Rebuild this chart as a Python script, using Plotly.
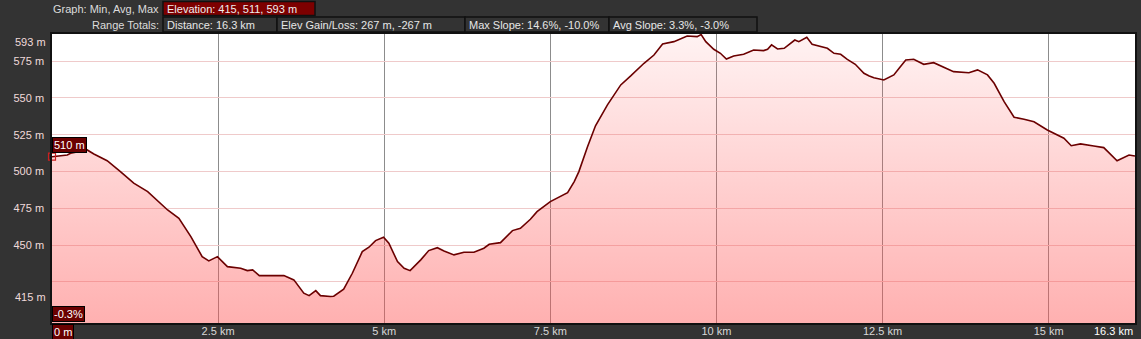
import plotly.graph_objects as go

# ---- data ----
distance_km = [0.00, 0.23, 0.28, 0.53, 0.63, 0.83, 1.03, 1.23, 1.44, 1.74, 1.91, 2.09, 2.26, 2.36,
               2.49, 2.64, 2.84, 2.94, 3.02, 3.12, 3.49, 3.64, 3.79, 3.87, 3.97, 4.04, 4.19, 4.24,
               4.39, 4.52, 4.67, 4.77, 4.87, 4.99, 5.07, 5.20, 5.30, 5.39, 5.55, 5.67, 5.80, 5.90,
               6.05, 6.20, 6.35, 6.50, 6.58, 6.75, 6.93, 7.05, 7.20, 7.30, 7.50, 7.76, 7.86, 7.93,
               8.06, 8.18, 8.36, 8.56, 8.71, 8.91, 9.06, 9.19, 9.36, 9.56, 9.71, 9.77, 9.84, 9.96,
               10.06, 10.15, 10.26, 10.41, 10.56, 10.71, 10.77, 10.83, 10.92, 11.02, 11.18, 11.24,
               11.36, 11.44, 11.67, 11.77, 11.87, 11.97, 12.09, 12.22, 12.30, 12.37, 12.52, 12.67,
               12.75, 12.85, 12.97, 13.12, 13.27, 13.37, 13.57, 13.80, 13.93, 14.08, 14.18, 14.33,
               14.48, 14.63, 14.78, 14.98, 15.08, 15.23, 15.34, 15.48, 15.68, 15.83, 16.03, 16.21,
               16.30]
elevation_m = [510.0, 511.2, 512.4, 514.6, 511.9, 507.3, 499.9, 492.0, 486.3, 473.8, 468.2, 455.7,
               442.1, 439.2, 442.1, 435.3, 434.2, 432.6, 433.1, 429.2, 429.2, 426.3, 417.3, 415.6,
               419.0, 415.6, 415.0, 415.2, 420.0, 430.8, 445.5, 448.5, 453.0, 455.3, 451.2, 438.7,
               434.2, 432.6, 439.9, 446.2, 448.2, 446.0, 443.3, 445.1, 445.1, 447.8, 450.5, 451.6,
               459.8, 461.4, 467.5, 472.7, 479.5, 485.6, 493.1, 499.9, 516.8, 531.0, 545.2, 558.8,
               564.9, 573.5, 579.1, 586.6, 588.2, 592.0, 591.6, 593.0, 588.2, 583.0, 580.3, 576.4,
               578.5, 579.6, 582.5, 582.1, 583.0, 586.0, 583.2, 583.7, 589.3, 588.2, 591.2, 586.4,
               583.7, 580.3, 579.6, 576.2, 572.8, 566.7, 564.9, 563.7, 562.2, 565.6, 570.1, 575.7,
               576.2, 572.8, 573.9, 571.7, 567.8, 567.1, 569.0, 565.6, 559.9, 547.4, 536.8, 535.5,
               533.8, 528.2, 526.0, 522.6, 517.5, 518.7, 517.3, 516.2, 507.3, 511.2, 510.5]

x_tick_vals = [2.5, 5, 7.5, 10, 12.5, 15]
x_tick_text = ["2.5 km", "5 km", "7.5 km", "10 km", "12.5 km", "15 km"]
y_grid_vals = [425, 450, 475, 500, 525, 550, 575]
y_tick_text = ["", "450 m", "475 m", "500 m", "525 m", "550 m", "575 m"]
y_min_label, y_max_label = "415 m", "593 m"
x_end_label = "16.3 km"
start_elev_label = "510 m"
start_slope_label = "-0.3%"
start_dist_label = "0 m"

graph_label = "Graph: Min, Avg, Max"
elev_stats = "Elevation: 415, 511, 593 m"
range_label = "Range Totals:"
range_stats = ["Distance: 16.3 km", "Elev Gain/Loss: 267 m, -267 m",
               "Max Slope: 14.6%, -10.0%", "Avg Slope: 3.3%, -3.0%"]

# ---- layout helpers (pixel -> paper) ----
W, H = 1141, 339
L, R, T, B = 52, 6, 34, 16
PW, PH = W - L - R, H - T - B


def px(x):
    return (x - L) / PW


def py(y):
    return (H - B - y) / PH


FONT = "Liberation Sans, Arial, sans-serif"
BG = "#333333"

fig = go.Figure()
fig.add_trace(go.Scatter(
    x=distance_km, y=elevation_m, mode="lines",
    line=dict(color="#6b0000", width=1.6),
    fill="tozeroy",
    fillgradient=dict(type="vertical", start=397, stop=593.4,
                      colorscale=[[0, "rgba(255,80,80,0.45)"], [1, "rgba(255,80,80,0.07)"]]),
    hoverinfo="skip", showlegend=False))
fig.add_trace(go.Scatter(
    x=[distance_km[0]], y=[elevation_m[0]], mode="markers",
    marker=dict(symbol="square-open", size=7, color="#cc2020", line=dict(width=1.2)),
    cliponaxis=False, hoverinfo="skip", showlegend=False))

shapes = []
annotations = []

# header row 1
annotations.append(dict(xref="paper", yref="paper", x=px(161), y=py(8.5), xanchor="right",
                        yanchor="middle", text=graph_label, showarrow=False,
                        font=dict(family=FONT, size=11, color="#dcdcdc")))
shapes.append(dict(type="rect", xref="paper", yref="paper", x0=px(163), x1=px(315),
                   y0=py(1.5), y1=py(15.5), fillcolor="#7d0000", line=dict(color="#111111", width=1.5)))
annotations.append(dict(xref="paper", yref="paper", x=px(165), y=py(8.5), xanchor="left",
                        yanchor="middle", text=elev_stats, showarrow=False,
                        font=dict(family=FONT, size=11, color="#eeeeee")))
# header row 2
annotations.append(dict(xref="paper", yref="paper", x=px(161), y=py(24.5), xanchor="right",
                        yanchor="middle", text=range_label, showarrow=False,
                        font=dict(family=FONT, size=11, color="#dcdcdc")))
edges = [163, 277, 465, 609, 757]
for i, txt in enumerate(range_stats):
    shapes.append(dict(type="rect", xref="paper", yref="paper", x0=px(edges[i]), x1=px(edges[i + 1]),
                       y0=py(17), y1=py(32), fillcolor=BG, line=dict(color="#111111", width=1.5)))
    annotations.append(dict(xref="paper", yref="paper", x=px(edges[i] + 2), y=py(24.5),
                            xanchor="left", yanchor="middle", text=txt, showarrow=False,
                            font=dict(family=FONT, size=11, color="#e6e6e6")))

ylab_font = dict(family=FONT, size=11, color="#f0dada")
annotations.append(dict(xref="paper", yref="y", x=0, xshift=-4, y=593.4, yanchor="top",
                        xanchor="right", text=y_max_label, showarrow=False, font=ylab_font))
annotations.append(dict(xref="paper", yref="y", x=0, xshift=-4, y=415, yanchor="middle",
                        xanchor="right", text=y_min_label, showarrow=False, font=ylab_font))
annotations.append(dict(xref="paper", yref="paper", x=1, y=py(331), yanchor="middle",
                        xanchor="right", text=x_end_label, showarrow=False,
                        font=dict(family=FONT, size=11, color="#ffffff")))

box = dict(bgcolor="#6a0000", bordercolor="#000000", borderwidth=1, borderpad=1,
           font=dict(family=FONT, size=11, color="#ffffff"), showarrow=False)
annotations.append(dict(xref="x", yref="y", x=distance_km[0], y=elevation_m[0], yshift=4,
                        xanchor="left", yanchor="bottom", text=start_elev_label, **box))
annotations.append(dict(xref="paper", yref="paper", x=0, y=py(322), xanchor="left",
                        yanchor="bottom", text=start_slope_label, **box))
annotations.append(dict(xref="paper", yref="paper", x=0, y=py(324), xanchor="left",
                        yanchor="top", text=start_dist_label, **box))

fig.update_layout(
    width=W, height=H, margin=dict(l=L, r=R, t=T, b=B, pad=0, autoexpand=False),
    paper_bgcolor=BG, plot_bgcolor="#ffffff",
    shapes=shapes, annotations=annotations,
    xaxis=dict(range=[0, 16.3], tickvals=x_tick_vals, ticktext=x_tick_text,
               showgrid=True, gridcolor="#8c8c8c", gridwidth=1, zeroline=False,
               showline=True, linecolor="#111111", linewidth=1.5, mirror=True,
               ticks="", tickfont=dict(family=FONT, size=11, color="#d8d8d8"),
               ticklabelstandoff=-3, automargin=False, fixedrange=True),
    yaxis=dict(range=[397, 593.4], tickvals=y_grid_vals, ticktext=y_tick_text,
               showgrid=True, gridcolor="#efcaca", gridwidth=1, zeroline=False,
               showline=True, linecolor="#111111", linewidth=1.5, mirror=True,
               ticks="", tickfont=ylab_font, ticklabelstandoff=4, automargin=False,
               fixedrange=True),
)

fig.write_html("out.html")
